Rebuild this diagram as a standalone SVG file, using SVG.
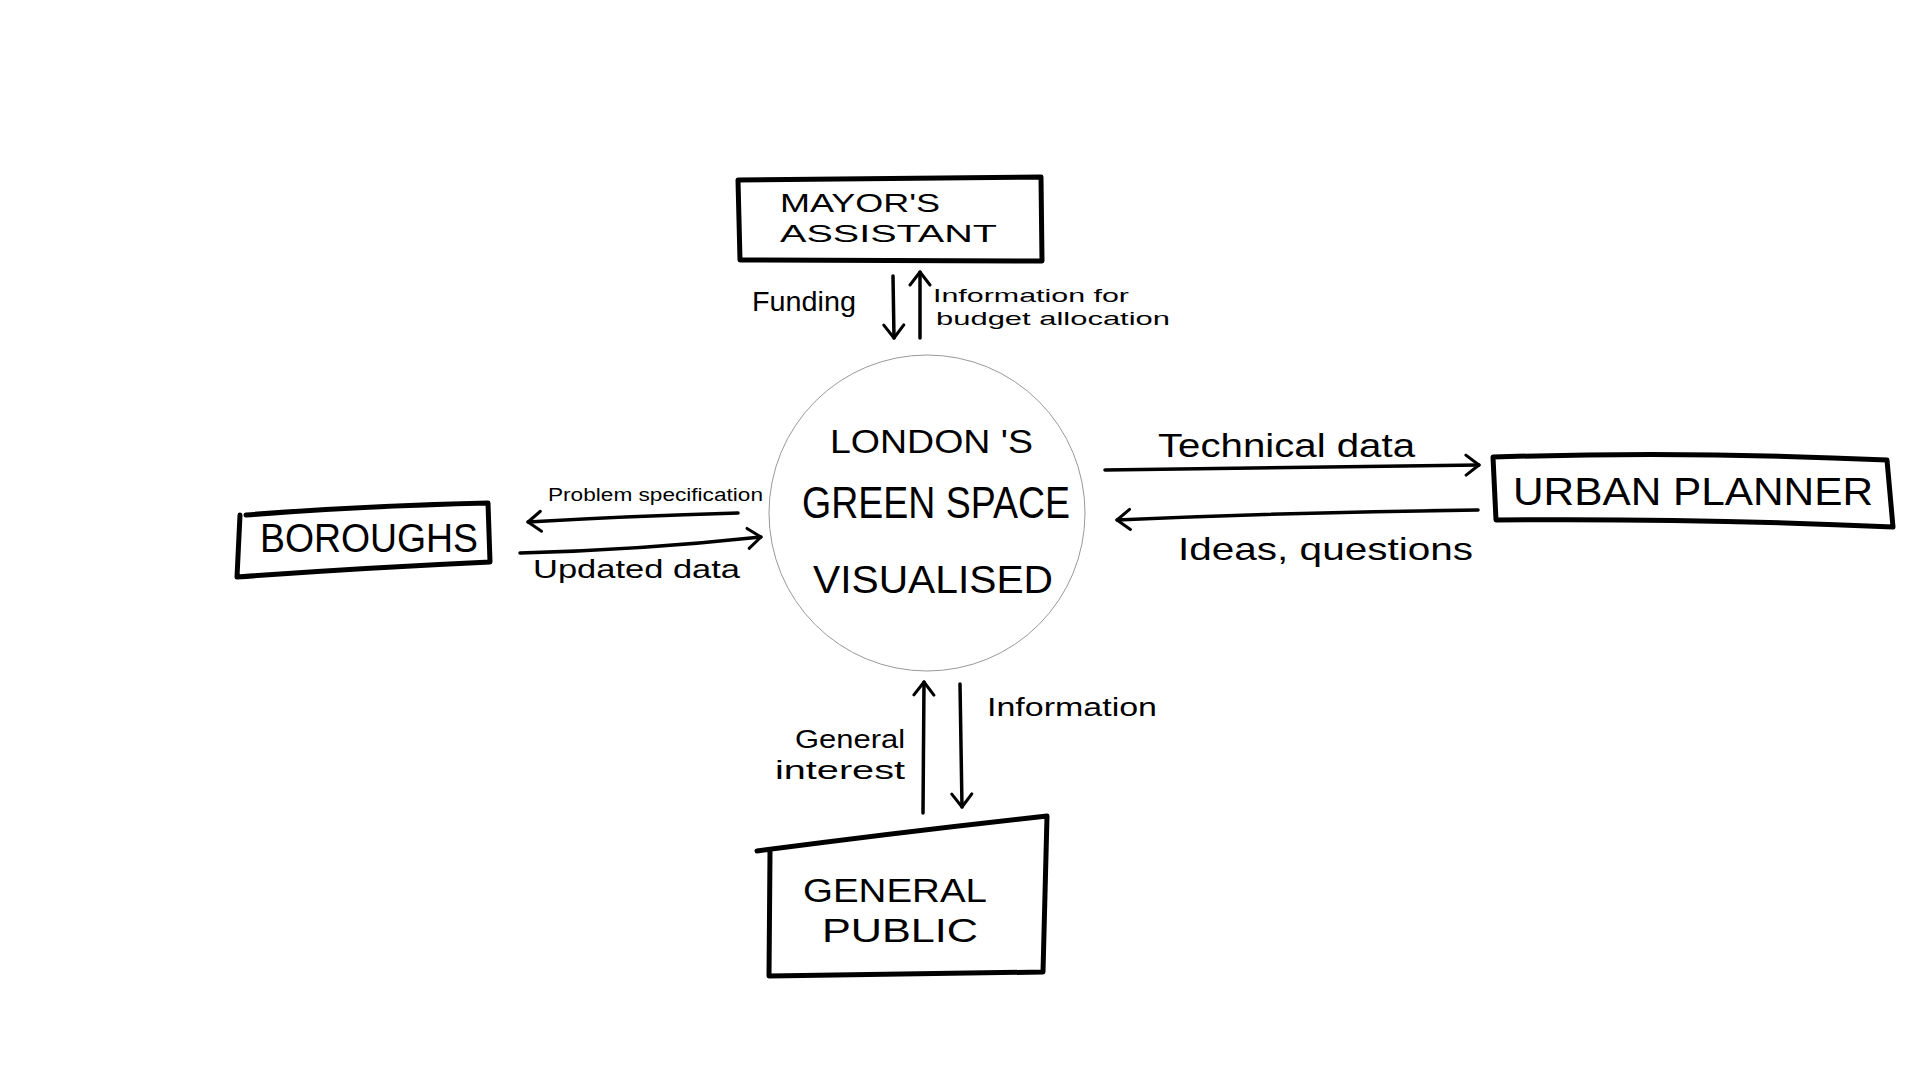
<svg xmlns="http://www.w3.org/2000/svg" width="1920" height="1080" viewBox="0 0 1920 1080">
<style>
.bg{fill:#ffffff}
.box{fill:none;stroke:#000;stroke-width:5;stroke-linejoin:round;stroke-linecap:round}
.hub{fill:#fff;stroke:#999;stroke-width:1}
.big{font-family:"Liberation Sans",Arial,sans-serif;fill:#000}
.lbl{font-family:"Liberation Sans",Arial,sans-serif;fill:#000}
.arr{fill:none;stroke:#000;stroke-width:3.5;stroke-linecap:round;marker-end:url(#head)}
</style>
<defs>
<marker id="head" viewBox="0 0 20 24" markerWidth="20" markerHeight="24" refX="17" refY="12" orient="auto" markerUnits="userSpaceOnUse">
<path d="M4,2 L17,12 L4,22" fill="none" stroke="#000" stroke-width="3" stroke-linecap="round" stroke-linejoin="round"/>
</marker>
</defs>
<rect class="bg" x="0" y="0" width="1920" height="1080"/>

<g id="connectors">
<path class="arr" d="M893,276 L894,338"/>
<path class="arr" d="M920,338 L920,272"/>
<path class="arr" d="M738,513 Q630,516 528,522"/>
<path class="arr" d="M520,553 Q640,550 761,537"/>
<path class="arr" d="M1105,470 Q1300,467 1479,465"/>
<path class="arr" d="M1478,510 Q1300,512 1117,520"/>
<path class="arr" d="M923,813 L924,682"/>
<path class="arr" d="M960,684 L962,807"/>
<text class="lbl" x="752" y="311" font-size="27" textLength="104" lengthAdjust="spacingAndGlyphs">Funding</text>
<text class="lbl" x="933" y="302" font-size="19" textLength="196" lengthAdjust="spacingAndGlyphs">Information for</text>
<text class="lbl" x="936" y="325" font-size="19" textLength="234" lengthAdjust="spacingAndGlyphs">budget allocation</text>
<text class="lbl" x="548" y="501" font-size="18" textLength="215" lengthAdjust="spacingAndGlyphs">Problem specification</text>
<text class="lbl" x="533" y="578" font-size="25" textLength="207" lengthAdjust="spacingAndGlyphs">Updated data</text>
<text class="lbl" x="1158" y="457" font-size="34" textLength="257" lengthAdjust="spacingAndGlyphs">Technical data</text>
<text class="lbl" x="1178" y="560" font-size="32" textLength="295" lengthAdjust="spacingAndGlyphs">Ideas, questions</text>
<text class="lbl" x="795" y="748" font-size="26" textLength="110" lengthAdjust="spacingAndGlyphs">General</text>
<text class="lbl" x="775" y="779" font-size="26" textLength="130" lengthAdjust="spacingAndGlyphs">interest</text>
<text class="lbl" x="987" y="716" font-size="26" textLength="170" lengthAdjust="spacingAndGlyphs">Information</text>
</g>

<g id="hub">
<circle class="hub" cx="927" cy="513" r="158"/>
<text class="big" x="830" y="453" font-size="33" textLength="203" lengthAdjust="spacingAndGlyphs">LONDON 'S</text>
<text class="big" x="802" y="518" font-size="44" textLength="268" lengthAdjust="spacingAndGlyphs">GREEN SPACE</text>
<text class="big" x="813" y="593" font-size="38" textLength="240" lengthAdjust="spacingAndGlyphs">VISUALISED</text>
</g>

<g id="mayors-assistant">
<path class="box" d="M738,180 L1041,177 L1042,261 L740,260 Z"/>
<text class="big" x="780" y="212" font-size="26" textLength="160" lengthAdjust="spacingAndGlyphs">MAYOR'S</text>
<text class="big" x="780" y="242" font-size="24" textLength="217" lengthAdjust="spacingAndGlyphs">ASSISTANT</text>
</g>

<g id="boroughs">
<path class="box" d="M246,515 Q360,506 488,503 L490,562 Q360,568 237,577 L240,515"/>
<text class="big" x="260" y="552" font-size="40" textLength="218" lengthAdjust="spacingAndGlyphs">BOROUGHS</text>
</g>

<g id="urban-planner">
<path class="box" d="M1493,457 Q1690,451 1887,460 L1893,527 Q1690,518 1496,520 Z"/>
<text class="big" x="1513" y="505" font-size="38" textLength="360" lengthAdjust="spacingAndGlyphs">URBAN PLANNER</text>
</g>

<g id="general-public">
<path class="box" d="M757,851 Q900,832 1047,816 L1043,972 L769,976 L770,852"/>
<text class="big" x="803" y="902" font-size="34" textLength="184" lengthAdjust="spacingAndGlyphs">GENERAL</text>
<text class="big" x="822" y="942" font-size="34" textLength="156" lengthAdjust="spacingAndGlyphs">PUBLIC</text>
</g>
</svg>
